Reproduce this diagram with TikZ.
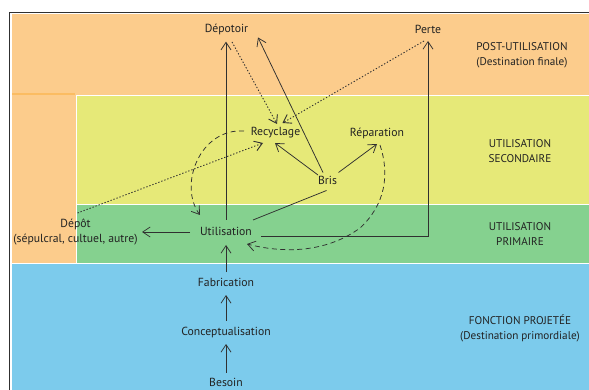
\documentclass[tikz,border=0pt]{standalone}
\usepackage{fontspec}
\setmainfont{PT Sans}
\usetikzlibrary{arrows.meta}
\definecolor{cor}{HTML}{FCCC8C}
\definecolor{corline}{HTML}{FBBC62}
\definecolor{cyel}{HTML}{E6E978}
\definecolor{cgreen}{HTML}{85D18F}
\definecolor{cblue}{HTML}{7CCBEC}
\definecolor{ln}{HTML}{303030}
\definecolor{txt}{HTML}{222222}
\begin{document}
\begin{tikzpicture}[x=1pt,y=-1pt,
  lbl/.style={font=\fontsize{11.7}{15}\selectfont, text=txt, inner sep=0pt, align=center},
  side/.style={font=\fontsize{11.2}{15}\selectfont, text=txt, inner sep=0pt, align=center},
  arrowtip/.style={-{Straight Barb[length=7.5pt,width=10pt]}},
  conn/.style={draw=ln, line width=0.75pt, arrowtip},
  dotline/.style={conn, line width=0.9pt, dash pattern=on 1.3pt off 1.9pt},
  dashline/.style={conn, dash pattern=on 5pt off 3.5pt}]
\useasboundingbox (0,0) rectangle (589,390);
\fill[white] (0,0) rectangle (589,390);
% bands
\fill[cor] (12,14) rectangle (589,94.8);
\fill[cor] (12,94.8) rectangle (76,263);
\draw[corline, line width=1.4pt] (12,94) -- (75,94);
\fill[cyel] (77,96.2) rectangle (589,203.6);
\fill[cgreen] (77,205) rectangle (589,262.6);
\fill[cblue] (12,264) rectangle (589,390);
\draw[ln, line width=1pt] (9.6,390) -- (9.6,12.3) -- (589,12.3);
% nodes
\node[lbl] (depotoir) at (226.5,29) {Dépotoir};
\node[lbl] (perte) at (428,29) {Perte};
\node[lbl] (recyc) at (275.5,133) {Recyclage};
\node[lbl] (repar) at (377,133) {Réparation};
\node[lbl] (bris) at (327.5,180.5) {Bris};
\node[lbl] (util) at (226,231) {Utilisation};
\node[lbl] (depot) at (75.5,232.5) {Dépôt\\(sépulcral, cultuel, autre)};
\node[lbl] (fab) at (226,282.5) {Fabrication};
\node[lbl] (concept) at (226,332.5) {Conceptualisation};
\node[lbl] (besoin) at (226,382.5) {Besoin};
\node[side] (post) at (522,55.5) {POST-UTILISATION\\(Destination finale)};
\node[side] (usec) at (520,151) {UTILISATION\\SECONDAIRE};
\node[side] (uprim) at (520,234.5) {UTILISATION\\PRIMAIRE};
\node[side] (fonct) at (520,328.5) {FONCTION PROJETÉE\\(Destination primordiale)};
% connectors
\draw[conn] ([shift={(0,-11)}]util.center) -- ([shift={(-0.5,12.7)}]depotoir.center);
\draw[dotline] ([shift={(5.5,13)}]depotoir.center) -- ([shift={(1.5,-9)}]recyc.center);
\draw[dotline] ([shift={(-4,12)}]perte.center) -- ([shift={(7,-10)}]recyc.center);
\draw[conn] ([shift={(-4.5,-8)}]bris.center) -- ([shift={(31.5,8.5)}]depotoir.center);
\draw[dotline] ([shift={(2,-19.5)}]depot.center) -- ([shift={(-12.5,10)}]recyc.center);
\draw[conn] ([shift={(-9.5,-5.5)}]bris.center) -- ([shift={(-0.5,10)}]recyc.center);
\draw[conn] ([shift={(11,-8)}]bris.center) -- ([shift={(0,11)}]repar.center);
\draw[conn, -] ([shift={(27,-11)}]util.center) -- ([shift={(-1,10)}]bris.center);
\draw[conn] ([shift={(35,5)}]util.center) -| ([shift={(0,12)}]perte.center);
\draw[conn] ([shift={(-36,1)}]util.center) -- ([shift={(66.5,-0.5)}]depot.center);
\draw[conn] ([shift={(0,-10.5)}]fab.center) -- ([shift={(0,14)}]util.center);
\draw[conn] ([shift={(0,-12)}]concept.center) -- ([shift={(0,12.5)}]fab.center);
\draw[conn] ([shift={(0,-10)}]besoin.center) -- ([shift={(0,11.5)}]concept.center);
\draw[dashline] ([shift={(-31.5,-2)}]recyc.center) .. controls (200,128) and (178,185) .. ([shift={(-26,-16)}]util.center);
\draw[dashline] ([shift={(3,12)}]repar.center) .. controls (390,175) and (385,205) .. (360,228) .. controls (330,250) and (290,255) .. ([shift={(21,13)}]util.center);
\end{tikzpicture}
\end{document}
